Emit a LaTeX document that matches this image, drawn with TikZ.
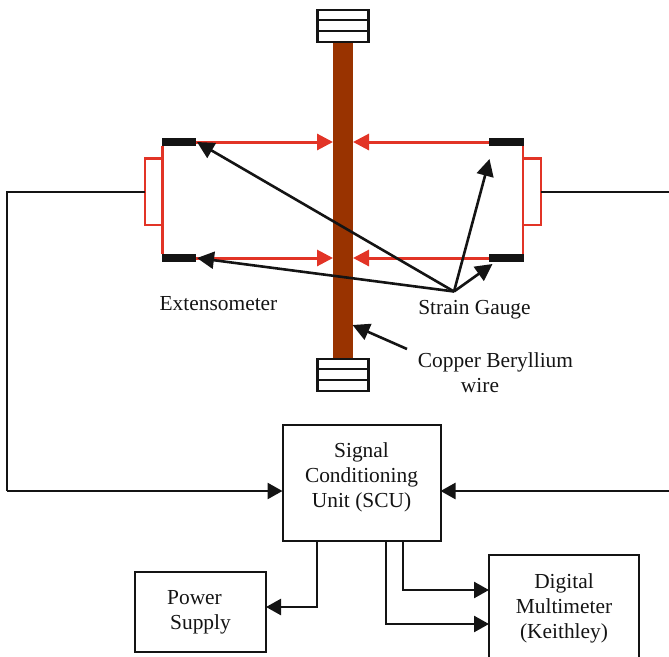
\documentclass[tikz,border=0pt]{standalone}
\usepackage{fontspec}
\setmainfont{Liberation Serif}
\usetikzlibrary{arrows.meta}
\definecolor{redline}{HTML}{E23426}
\definecolor{wirebrown}{HTML}{993300}
\definecolor{ink}{HTML}{141414}
\begin{document}
\begin{tikzpicture}[x=1pt,y=-1pt,
  every node/.style={inner sep=0pt,outer sep=0pt,font=\fontsize{21.4}{25}\selectfont,text=ink},
  box/.style={draw=ink,line width=2pt,align=center,fill=white},
  clampbox/.style={draw=ink,line width=2.2pt,fill=white,minimum width=51pt,minimum height=10.7pt},
  gauge/.style={fill=ink,minimum width=34.6pt,minimum height=8.4pt},
  wiring/.style={draw=ink,line width=2.5pt},
  tiplink/.style={wiring,-{Triangle[length=15pt,width=16pt]}},
  pointer/.style={draw=ink,line width=2.6pt,-{Triangle[length=17pt,width=17pt]}},
  force/.style={draw=redline,line width=3pt,-{Triangle[length=16pt,width=16pt,color=redline]}},
  lead/.style={draw=redline,line width=2.4pt},
  caption/.style={anchor=base,align=center}]
\useasboundingbox (0,0) rectangle (669,656);
% wire
\node[fill=wirebrown,minimum width=20pt,minimum height=316pt] (wire) at (343,200) {};
% clamps
\node[clampbox] (ct1) at (343,15) {};
\node[clampbox] (ct2) at (343,25.6) {};
\node[clampbox] (ct3) at (343,36.3) {};
\node[clampbox] (cb1) at (343,364) {};
\node[clampbox] (cb2) at (343,374.6) {};
\node[clampbox] (cb3) at (343,385.3) {};
% gauges
\node[gauge] (gTL) at (179,142) {};
\node[gauge] (gBL) at (179,258) {};
\node[gauge] (gTR) at (506.5,142) {};
\node[gauge] (gBR) at (506.5,258) {};
% force arrows
\draw[force] (gTL.east) -- (wire.west |- gTL.east);
\draw[force] (gBL.east) -- (wire.west |- gBL.east);
\draw[force] (gTR.west) -- (wire.east |- gTR.west);
\draw[force] (gBR.west) -- (wire.east |- gBR.west);
% red leads
\coordinate (lA) at (162,158.5);
\coordinate (lB) at (162,225);
\coordinate (lC) at (145,158.5);
\coordinate (lD) at (145,225);
\coordinate (lE) at (145,192);
\coordinate (rA) at (523,158.5);
\coordinate (rB) at (523,225);
\coordinate (rC) at (541,158.5);
\coordinate (rD) at (541,225);
\coordinate (rE) at (541,192);
\coordinate (lT) at (162.5,146);
\coordinate (lU) at (162.5,254);
\coordinate (rT) at (523,146);
\coordinate (rU) at (523,254);
\draw[lead] (lT) -- (lU);
\draw[lead] (lA) -- (lC) -- (lD) -- (lB);
\draw[lead] (rT) -- (rU);
\draw[lead] (rA) -- (rC) -- (rD) -- (rB);
% boxes
\node[box,minimum width=158pt,minimum height=116pt] (scu) at (361.5,482.5) {Signal\\Conditioning\\Unit (SCU)\\[-10pt]\mbox{}};
\node[box,minimum width=131pt,minimum height=80pt] (psu) at (200.5,612) {Power\hspace*{12pt}\\Supply\\[-21pt]\mbox{}};
\node[box,minimum width=150pt,minimum height=110pt] (dmm) at (564,610) {Digital\\Multimeter\\(Keithley)\\[-17pt]\mbox{}};
% signal lines
\coordinate (farL) at (7,192);
\coordinate (farLb) at (7,491);
\coordinate (farR) at (669,192);
\coordinate (farRb) at (669,491);
\draw[wiring] (lE) -- (farL) -- (farLb);
\draw[tiplink] (farLb) -- (farLb -| scu.west);
\draw[wiring] (rE) -- (farR);
\draw[tiplink] (farRb) -- (farRb -| scu.east);
\coordinate (psuOut) at (317,541);
\coordinate (psuBend) at (317,607);
\coordinate (dmOutA) at (403,541);
\coordinate (dmBendA) at (403,590);
\coordinate (dmOutB) at (386,541);
\coordinate (dmBendB) at (386,624);
\draw[tiplink] (psuOut) -- (psuBend) -- (psuBend -| psu.east);
\draw[tiplink] (dmOutA) -- (dmBendA) -- (dmBendA -| dmm.west);
\draw[tiplink] (dmOutB) -- (dmBendB) -- (dmBendB -| dmm.west);
% captions
\node[caption] (ext) at (218.5,310) {Extensometer};
\node[caption] (sg) at (474.5,314) {Strain Gauge};
\node[caption] (cu) at (495.5,367) {Copper Beryllium};
\node[caption] (cuw) at (480,392) {wire};
% pointers
\coordinate (fan) at (454,291.5);
\coordinate (tTL) at (197,142);
\coordinate (tBL) at (197,258);
\coordinate (tTR) at (489.5,159);
\coordinate (tBR) at (492.5,264);
\coordinate (cuStart) at (407,349);
\coordinate (cuTip) at (352.5,325);
\draw[pointer] (fan) -- (tTL);
\draw[pointer] (fan) -- (tBL);
\draw[pointer] (fan) -- (tTR);
\draw[pointer] (fan) -- (tBR);
\draw[pointer] (cuStart) -- (cuTip);
\end{tikzpicture}
\end{document}
